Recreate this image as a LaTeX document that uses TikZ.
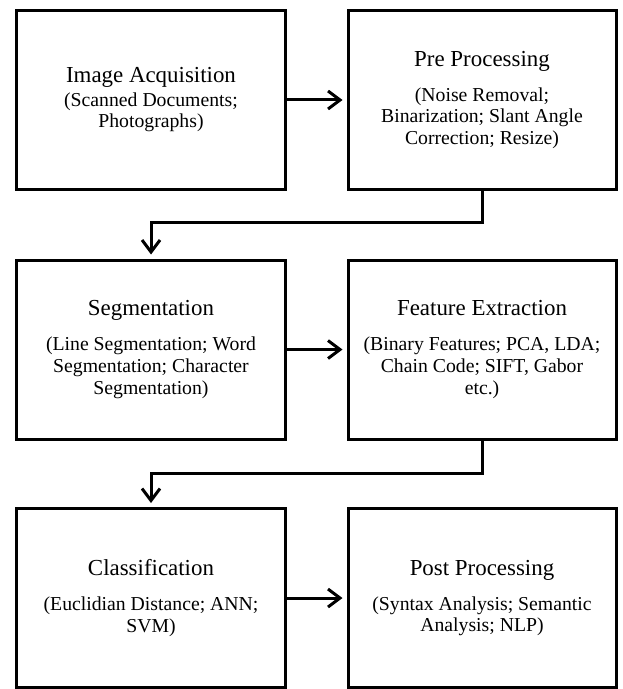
\documentclass[tikz,border=0pt]{standalone}
\usepackage{fontspec}
\setmainfont{Liberation Serif}
\usetikzlibrary{arrows.meta}
\usetikzlibrary{positioning}
\usetikzlibrary{calc}
\newcommand{\titlesize}{\fontsize{23}{26}\selectfont}
\newcommand{\subsize}{\fontsize{19.8}{21.7}\selectfont}
\tikzstyle{stage}=[rectangle,draw=black,line width=3bp,minimum width=268bp,minimum height=179bp,inner sep=0pt,align=center,font=\subsize]
\tikzstyle{flow} = [draw,line width=3bp,-{Straight Barb[length=12bp,width=18bp]},shorten >=4bp]

\begin{document}
\begin{tikzpicture}[x=1bp,y=-1bp]

  \useasboundingbox (0,0) rectangle (623,689);

  \foreach \x/\y/\name/\gap/\title/\sub in {151/100/acq/1.8bp/{Image Acquisition}/{(Scanned Documents;\\Photographs)}, 482/100/pre/13.3bp/{Pre Processing}/{(Noise Removal;\\Binarization; Slant Angle\\Correction; Resize)}}
          \node[stage] (\name) at (\x,\y) {{\titlesize \title}\\[\gap]\sub};

  \foreach \x/\y/\name/\gap/\title/\sub in {151/349.5/seg/13.3bp/{Segmentation}/{(Line Segmentation; Word\\Segmentation; Character\\Segmentation)}, 482/349.5/feat/13.3bp/{Feature Extraction}/{(Binary Features; PCA, LDA;\\Chain Code; SIFT, Gabor\\etc.)}}
          \node[stage] (\name) at (\x,\y) {{\titlesize \title}\\[\gap]\sub};

  \foreach \x/\y/\name/\gap/\title/\sub in {151/598/cls/13.3bp/{Classification}/{(Euclidian Distance; ANN;\\SVM)}, 482/598/post/13.3bp/{Post Processing}/{(Syntax Analysis; Semantic\\Analysis; NLP)}}
          \node[stage] (\name) at (\x,\y) {{\titlesize \title}\\[\gap]\sub};

  \foreach \source/ \dest in {acq/pre, seg/feat, cls/post}
         \draw[flow] (\source) -- (\dest);

  \draw[flow] (pre.south) -- ++(0,31) -| (seg.north);
  \draw[flow] (feat.south) -- ++(0,33) -| (cls.north);

\end{tikzpicture}
\end{document}
